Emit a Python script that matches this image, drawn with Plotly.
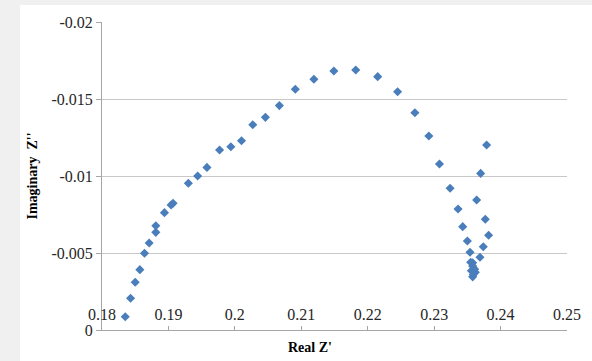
import plotly.graph_objects as go

# Nyquist data (Real Z', Imaginary Z'')
real_z = [0.1835, 0.1843, 0.1850, 0.1857, 0.1864, 0.1871, 0.1881, 0.1881,
          0.1894, 0.1904, 0.1907, 0.1930, 0.1944, 0.1958, 0.1977, 0.1994,
          0.2010, 0.2027, 0.2046, 0.2067, 0.2091, 0.2119, 0.2149, 0.2182,
          0.2215, 0.2245, 0.2271, 0.2292, 0.2308, 0.2324, 0.2336, 0.2343,
          0.2350, 0.2354, 0.2358, 0.2355, 0.2358, 0.2361, 0.2356, 0.2362,
          0.2359, 0.2358, 0.2369, 0.2374, 0.2382, 0.2377, 0.2364, 0.2370,
          0.2379]
imag_z = [-0.00086, -0.00206, -0.00310, -0.00392, -0.00498, -0.00565, -0.00634, -0.00677,
          -0.00762, -0.00812, -0.00823, -0.00953, -0.01000, -0.01056, -0.01169, -0.01190,
          -0.01229, -0.01333, -0.01381, -0.01457, -0.01563, -0.01628, -0.01682, -0.01688,
          -0.01645, -0.01547, -0.01411, -0.01260, -0.01078, -0.00920, -0.00786, -0.00671,
          -0.00578, -0.00505, -0.00437, -0.00440, -0.00415, -0.00395, -0.00385, -0.00375,
          -0.00360, -0.00345, -0.00472, -0.00541, -0.00615, -0.00719, -0.00844, -0.01017,
          -0.01201]

x_ticks = [0.18, 0.19, 0.20, 0.21, 0.22, 0.23, 0.24, 0.25]
x_labels = ["0.18", "0.19", "0.2", "0.21", "0.22", "0.23", "0.24", "0.25"]
y_ticks = [-0.02, -0.015, -0.01, -0.005, 0]
y_labels = ["-0.02", "-0.015", "-0.01", "-0.005", "0"]

font_family = "Liberation Serif, Times New Roman, serif"

fig = go.Figure()
fig.add_trace(go.Scatter(
    x=real_z, y=imag_z, mode="markers",
    marker=dict(symbol="diamond", size=7, color="#4a7ebb"),
    showlegend=False,
))
# empty trace so the label-only x axis is drawn
fig.add_trace(go.Scatter(x=[], y=[], xaxis="x2", yaxis="y",
                         mode="markers", showlegend=False, hoverinfo="skip"))

W, H = 592, 361
L, R, T, B = 102, 25, 22, 31
pw = W - L - R
ph = H - T - B

fig.update_layout(
    width=W, height=H,
    margin=dict(l=L, r=R, t=T, b=B),
    paper_bgcolor="white", plot_bgcolor="white",
    font=dict(family=font_family, size=16, color="#262626"),
    xaxis=dict(
        range=[0.18, 0.25], tickvals=x_ticks, showticklabels=False,
        showgrid=False, zeroline=False,
        showline=True, linecolor="#a6a6a6", linewidth=1,
        ticks="inside", ticklen=4, tickcolor="#a6a6a6",
    ),
    xaxis2=dict(
        overlaying="x", anchor="free", side="bottom",
        position=(330 - 303) / ph,
        range=[0.18, 0.25], tickvals=x_ticks, ticktext=x_labels,
        showgrid=False, zeroline=False, showline=False, ticks="",
    ),
    yaxis=dict(
        range=[0, -0.02], tickvals=y_ticks, ticktext=y_labels,
        showgrid=True, gridcolor="#c8c8c8", gridwidth=1, zeroline=False,
        showline=True, linecolor="#a6a6a6", linewidth=1,
        ticks="outside", ticklen=5, tickcolor="#a6a6a6",
        title=dict(text="<b>Imaginary  Z''</b>",
                   font=dict(family=font_family, size=14, color="#000000"),
                   standoff=10),
    ),
    annotations=[dict(
        text="<b>Real Z'</b>", xref="paper", yref="paper",
        x=(310 - L) / pw, y=-(347 - T - ph) / ph,
        showarrow=False, xanchor="center", yanchor="middle",
        font=dict(family=font_family, size=14, color="#000000"),
    )],
    shapes=[
        dict(type="rect", xref="paper", yref="paper", layer="below",
             x0=-L / pw, x1=-(L - 20) / pw, y0=-B / ph, y1=(ph + T) / ph,
             fillcolor="#f0f0f0", line=dict(width=0)),
        dict(type="rect", xref="paper", yref="paper", layer="below",
             x0=-L / pw, x1=(pw + R) / pw, y0=(ph + T - 5) / ph, y1=(ph + T) / ph,
             fillcolor="#f0f0f0", line=dict(width=0)),
    ],
)

fig.write_html("out.html")
